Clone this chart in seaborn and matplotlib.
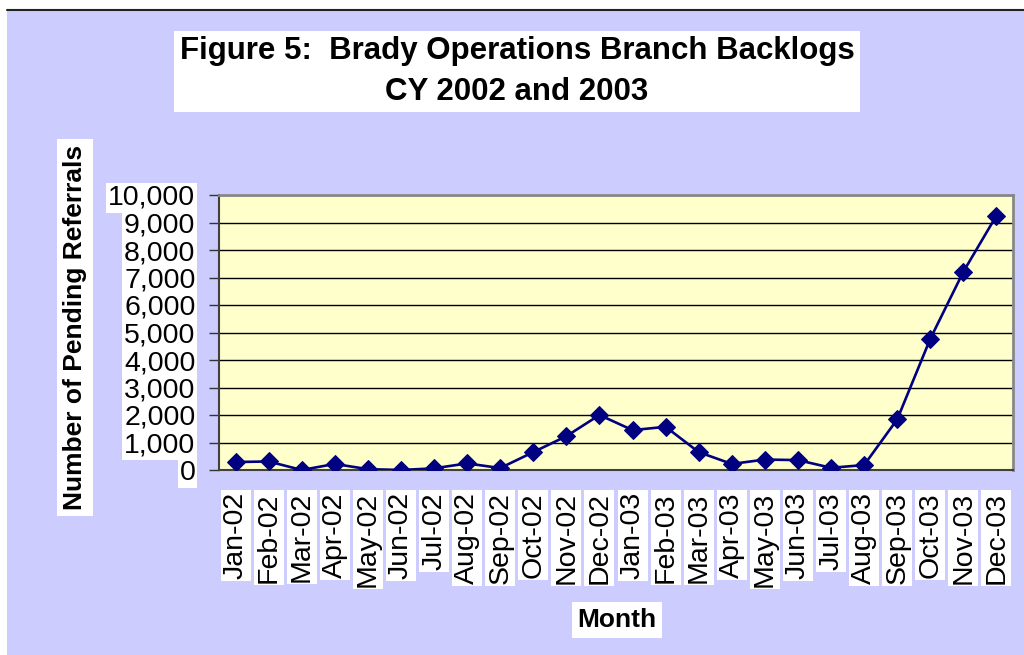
import numpy as np
import pandas as pd
import matplotlib
matplotlib.use("Agg")
import matplotlib.pyplot as plt
from matplotlib.patches import Rectangle
from matplotlib.lines import Line2D
from matplotlib.ticker import FuncFormatter, MultipleLocator
import seaborn as sns

months = ["Jan-02", "Feb-02", "Mar-02", "Apr-02", "May-02", "Jun-02",
          "Jul-02", "Aug-02", "Sep-02", "Oct-02", "Nov-02", "Dec-02",
          "Jan-03", "Feb-03", "Mar-03", "Apr-03", "May-03", "Jun-03",
          "Jul-03", "Aug-03", "Sep-03", "Oct-03", "Nov-03", "Dec-03"]
pending = [290, 310, 0, 220, 30, 0, 60, 240, 70, 650, 1230, 2000,
           1450, 1570, 650, 220, 380, 360, 80, 180, 1840, 4770, 7210, 9250]

df = pd.DataFrame({"Month": months, "Pending": pending})

sns.set_style("white")
plt.rcParams["font.family"] = ["Liberation Sans", "DejaVu Sans"]
plt.rcParams.update({"text.color": "black", "axes.labelcolor": "black",
                     "xtick.color": "black", "ytick.color": "black"})

lavender = "#CCCCFF"
fig = plt.figure(figsize=(10.24, 6.55), dpi=100, facecolor="white")
fig.patches.append(Rectangle((7 / 1024, 0), 1, 1 - 10 / 655, transform=fig.transFigure,
                             facecolor=lavender, edgecolor="none", zorder=-10))
fig.lines.append(Line2D([7 / 1024, 1], [1 - 10 / 655] * 2, transform=fig.transFigure,
                        color="#222222", lw=1.5))

ax = fig.add_axes([219 / 1024, 185 / 655, 794 / 1024, 275 / 655])
ax.set_facecolor("#FFFFCC")

sns.lineplot(data=df, x="Month", y="Pending", ax=ax, sort=False, color="#000080",
             lw=1.9, marker="D", markersize=9, markeredgecolor="#000080", zorder=5)

ax.set_xlim(-0.5, len(months) - 0.5)
ax.set_ylim(0, 10000)
ax.yaxis.set_major_locator(MultipleLocator(1000))
ax.yaxis.set_major_formatter(FuncFormatter(lambda v, p: f"{int(v):,}"))
ax.grid(axis="y", color="black", lw=1.0)
ax.grid(axis="x", visible=False)
ax.set_axisbelow(True)

# category ticks sit between the months
ax.set_xticks(np.arange(len(months)))
ax.set_xticklabels(months, rotation=90)
ax.set_xticks(np.arange(len(months) + 1) - 0.5, minor=True)
ax.tick_params(axis="x", which="major", length=0, pad=16, labelsize=20.5)
ax.tick_params(axis="x", which="minor", length=6, width=1, color="#333333", direction="out")
ax.tick_params(axis="y", length=7, width=1, color="#333333", direction="out", pad=10,
               labelsize=20.5, left=True)
for lab in ax.get_xticklabels() + ax.get_yticklabels():
    lab.set_bbox(dict(facecolor="white", edgecolor="none", pad=1.5))

for side in ["left", "bottom"]:
    ax.spines[side].set_color("#404040")
    ax.spines[side].set_linewidth(1.5)
for side in ["top", "right"]:
    ax.spines[side].set_color("#888888")
    ax.spines[side].set_linewidth(2)

ax.set_xlabel("")
ax.set_ylabel("")

box = dict(facecolor="white", edgecolor="none", pad=4)
fig.text(517 / 1024, 1 - 71.5 / 655,
         "Figure 5:  Brady Operations Branch Backlogs\nCY 2002 and 2003",
         ha="center", va="center", fontsize=22.5, fontweight="bold",
         linespacing=1.45, bbox=dict(facecolor="white", edgecolor="none", pad=4))
fig.text(75 / 1024, 1 - 327.5 / 655, "Number of Pending Referrals", rotation=90,
         ha="center", va="center", fontsize=19, fontweight="bold", bbox=box)
fig.text(617 / 1024, 1 - 620 / 655, "Month", ha="center", va="center",
         fontsize=19, fontweight="bold", bbox=box)

fig.savefig("out.png", dpi=100, facecolor=fig.get_facecolor())
